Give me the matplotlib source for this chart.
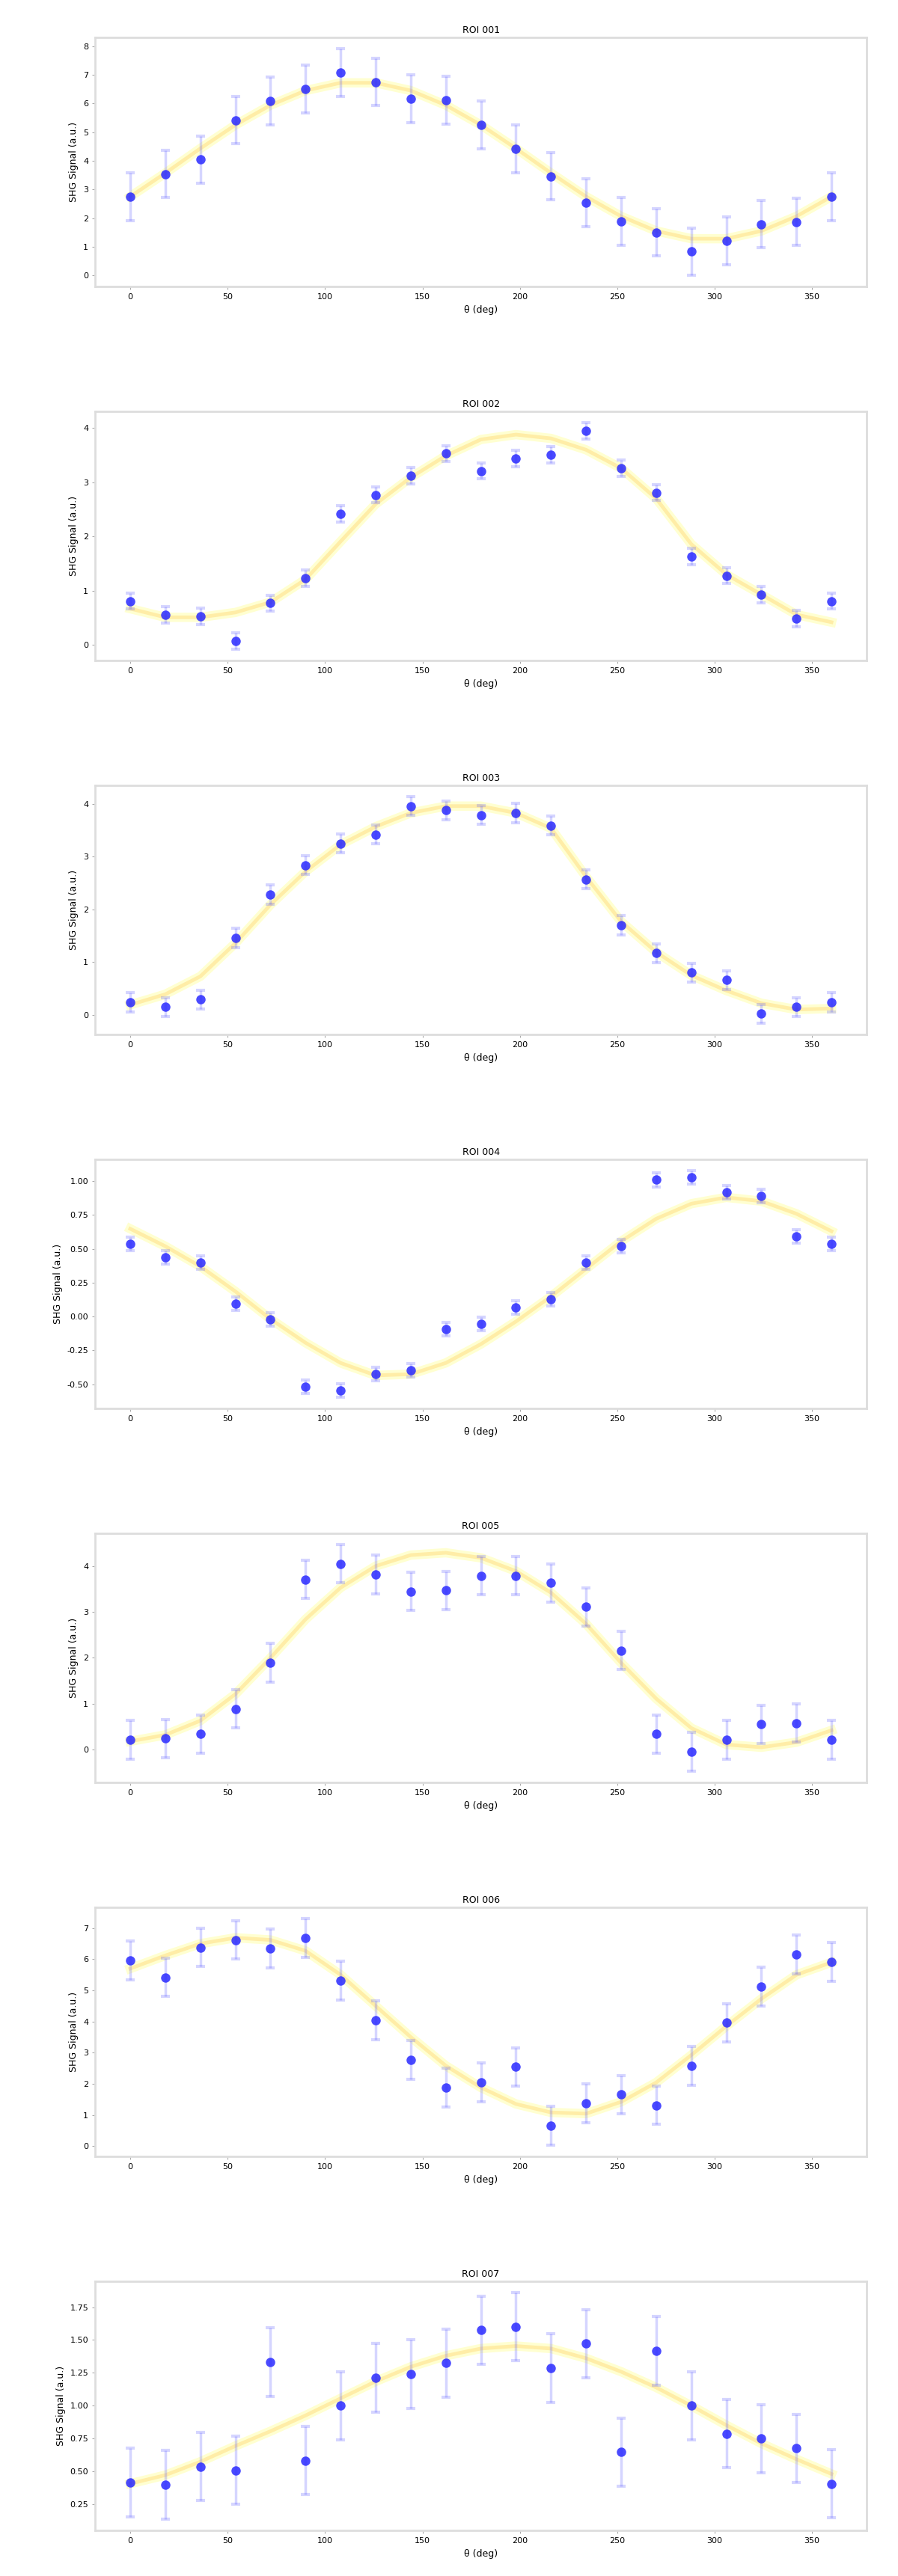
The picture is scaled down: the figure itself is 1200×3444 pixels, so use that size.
import matplotlib
matplotlib.use("Agg")
import matplotlib.pyplot as plt
import numpy as np

# polarisation angle of each measurement (deg)
phase = [0, 18, 36, 54, 72, 90, 108, 126, 144, 162, 180,
         198, 216, 234, 252, 270, 288, 306, 324, 342, 360]
xticks = [0, 50, 100, 150, 200, 250, 300, 350]

titles = ["ROI 001", "ROI 002", "ROI 003", "ROI 004", "ROI 005", "ROI 006", "ROI 007"]

y1 = [2.75, 3.54, 4.04, 5.42, 6.08, 6.50, 7.08, 6.75, 6.17, 6.12, 5.25,
      4.42, 3.46, 2.54, 1.88, 1.50, 0.83, 1.21, 1.79, 1.87, 2.75]
y2 = [0.81, 0.56, 0.53, 0.07, 0.77, 1.23, 2.42, 2.77, 3.12, 3.53, 3.21,
      3.44, 3.51, 3.95, 3.26, 2.81, 1.63, 1.28, 0.93, 0.49, 0.81]
y3 = [0.24, 0.15, 0.29, 1.46, 2.28, 2.84, 3.25, 3.42, 3.96, 3.88, 3.79,
      3.83, 3.59, 2.57, 1.70, 1.17, 0.80, 0.66, 0.02, 0.15, 0.24]
y4 = [0.537, 0.435, 0.398, 0.093, -0.019, -0.519, -0.546, -0.426, -0.398, -0.093, -0.056,
      0.065, 0.130, 0.398, 0.519, 1.009, 1.028, 0.917, 0.889, 0.593, 0.537]
y5 = [0.21, 0.24, 0.34, 0.89, 1.89, 3.71, 4.05, 3.82, 3.45, 3.47, 3.79,
      3.79, 3.63, 3.11, 2.16, 0.34, -0.05, 0.21, 0.55, 0.58, 0.21]
y6 = [5.96, 5.42, 6.38, 6.62, 6.35, 6.69, 5.31, 4.04, 2.77, 1.88, 2.04,
      2.54, 0.65, 1.38, 1.65, 1.31, 2.58, 3.96, 5.12, 6.15, 5.92]
y7 = [0.417, 0.398, 0.537, 0.509, 1.333, 0.583, 1.000, 1.213, 1.241, 1.324, 1.574,
      1.602, 1.287, 1.472, 0.648, 1.417, 1.000, 0.787, 0.750, 0.676, 0.407]

# error bar half-widths
e1 = [0.83] * 21
e2 = [0.15] * 21
e3 = [0.18] * 21
e4 = [0.05] * 21
e5 = [0.42] * 21
e6 = [0.62] * 21
e7 = [0.26] * 21

# fitted curve at the same angles
f1 = [2.75, 3.57, 4.43, 5.25, 5.94, 6.45, 6.72, 6.72, 6.45, 5.94, 5.25,
      4.43, 3.57, 2.75, 2.06, 1.55, 1.28, 1.28, 1.55, 2.06, 2.75]
f2 = [0.67, 0.51, 0.51, 0.60, 0.79, 1.21, 1.91, 2.60, 3.09, 3.49, 3.79,
      3.88, 3.81, 3.60, 3.26, 2.70, 1.86, 1.30, 0.93, 0.56, 0.42]
f3 = [0.19, 0.39, 0.73, 1.36, 2.09, 2.72, 3.23, 3.57, 3.83, 3.96, 3.96,
      3.83, 3.54, 2.62, 1.77, 1.19, 0.75, 0.46, 0.22, 0.10, 0.12]
f4 = [0.648, 0.519, 0.370, 0.185, -0.019, -0.194, -0.343, -0.435, -0.426, -0.343, -0.204,
      -0.037, 0.148, 0.352, 0.556, 0.722, 0.833, 0.880, 0.852, 0.759, 0.630]
f5 = [0.18, 0.32, 0.63, 1.21, 2.00, 2.84, 3.53, 4.00, 4.24, 4.29, 4.18,
      3.89, 3.42, 2.74, 1.89, 1.11, 0.47, 0.11, 0.05, 0.16, 0.42]
f6 = [5.70, 6.12, 6.50, 6.69, 6.62, 6.27, 5.50, 4.50, 3.50, 2.58, 1.88,
      1.35, 1.08, 1.04, 1.42, 2.04, 2.92, 3.85, 4.73, 5.50, 5.90]
f7 = [0.407, 0.472, 0.574, 0.694, 0.806, 0.926, 1.056, 1.185, 1.296, 1.380, 1.435,
      1.454, 1.435, 1.361, 1.259, 1.139, 1.000, 0.852, 0.713, 0.593, 0.481]

yt1 = [0, 1, 2, 3, 4, 5, 6, 7, 8]
yt2 = [0, 1, 2, 3, 4]
yt3 = [0, 1, 2, 3, 4]
yt4 = [-0.50, -0.25, 0.00, 0.25, 0.50, 0.75, 1.00]
yt5 = [0, 1, 2, 3, 4]
yt6 = [0, 1, 2, 3, 4, 5, 6, 7]
yt7 = [0.25, 0.50, 0.75, 1.00, 1.25, 1.50, 1.75]

ys = [y1, y2, y3, y4, y5, y6, y7]
es = [e1, e2, e3, e4, e5, e6, e7]
fs = [f1, f2, f3, f4, f5, f6, f7]
yts = [yt1, yt2, yt3, yt4, yt5, yt6, yt7]
fmts = ["%d", "%d", "%d", "%.2f", "%d", "%d", "%.2f"]

fig, axes = plt.subplots(7, 1, figsize=(12, 34.44), dpi=100)
fig.subplots_adjust(left=0.106, right=0.965, top=1 - 50 / 3444, bottom=1 - 3383 / 3444,
                    hspace=0.5)

for ax, y, e, f, yt, fm, t in zip(axes, ys, es, fs, yts, fmts, titles):
    # fit
    ax.plot(phase, f, color="yellow", lw=9, alpha=0.18, zorder=1)
    ax.plot(phase, f, color="orange", lw=3.5, alpha=0.2, zorder=1)
    # data
    ax.errorbar(phase, y, yerr=e, fmt="none", ecolor=(0.35, 0.35, 1.0, 0.25),
                elinewidth=2.5, capsize=4, capthick=3, zorder=2)
    ax.plot(phase, y, "o", color="#2a2aff", markersize=9, alpha=0.85, mew=0, zorder=3)
    ax.set_xticks(xticks)
    ax.set_yticks(yt)
    ax.set_yticklabels([fm % v for v in yt])
    ax.set_title(t, fontsize=9, pad=4)
    ax.set_xlabel("θ (deg)", fontsize=9)
    ax.set_ylabel("SHG Signal (a.u.)", fontsize=9)
    ax.tick_params(labelsize=8, color="#aaaaaa", length=3)
    for s in ax.spines.values():
        s.set_color("#dddddd")
        s.set_linewidth(2)

fig.savefig("out.png", dpi=100)
